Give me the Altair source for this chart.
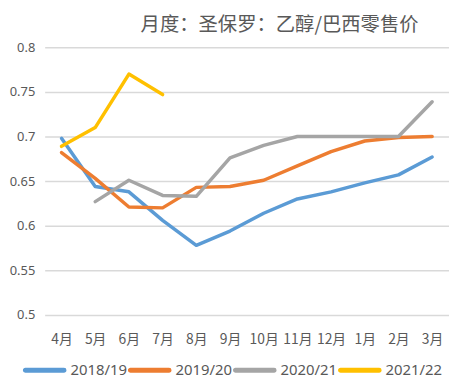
import altair as alt
import pandas as pd

months = ["4月", "5月", "6月", "7月", "8月", "9月", "10月", "11月", "12月", "1月", "2月", "3月"]
series = ["2018/19", "2019/20", "2020/21", "2021/22"]
colors = ["#5B9BD5", "#ED7D31", "#A5A5A5", "#FFC000"]

s2018 = [0.698, 0.644, 0.638, 0.606, 0.578, 0.594, 0.614, 0.630, 0.638, 0.648, 0.657, 0.677]
s2019 = [0.682, 0.653, 0.621, 0.620, 0.643, 0.644, 0.651, 0.667, 0.683, 0.695, 0.699, 0.700]
s2020 = [None, 0.627, 0.651, 0.634, 0.633, 0.676, 0.690, 0.700, 0.700, 0.700, 0.700, 0.739]
s2021 = [0.689, 0.710, 0.770, 0.747]

rows = []
for name, vals in zip(series, [s2018, s2019, s2020, s2021]):
    for m, v in zip(months, vals):
        if v is not None:
            rows.append({"month": m, "series": name, "value": v})
df = pd.DataFrame(rows)

capsule = "M-7.0,-0.2L0.8,-0.2A0.2,0.2 0 0 1 0.8,0.2L-7.0,0.2A0.2,0.2 0 0 1 -7.0,-0.2Z"

chart = alt.Chart(df).mark_line(strokeWidth=3.5, strokeJoin="round", strokeCap="round").encode(
    x=alt.X("month:N", sort=months, scale=alt.Scale(type="point", padding=0.5),
            axis=alt.Axis(title=None, labelAngle=0, domain=False, ticks=False,
                          labelFontSize=14, labelColor="#595959", labelPadding=18,
                          labelFont="Noto Sans CJK SC")),
    y=alt.Y("value:Q", scale=alt.Scale(domain=[0.5, 0.8], nice=False, zero=False),
            axis=alt.Axis(title=None, values=[0.5, 0.55, 0.6, 0.65, 0.7, 0.75, 0.8],
                          format="~g", domain=False, ticks=False, gridColor="#D9D9D9",
                          gridWidth=1.5, labelFontSize=13, labelColor="#595959",
                          labelPadding=10, labelFont="Noto Sans")),
    color=alt.Color("series:N", sort=series,
                    scale=alt.Scale(domain=series, range=colors),
                    legend=alt.Legend(title=None, orient="none", direction="horizontal",
                                      legendX=8, legendY=318,
                                      symbolType=capsule, symbolSize=100,
                                      symbolStrokeWidth=3, labelFontSize=15,
                                      labelColor="#595959", labelFont="Noto Sans",
                                      columnPadding=-5, labelOffset=3)),
    order=alt.Order("series:N"),
).properties(
    width=408, height=270,
    title=alt.TitleParams("月度：圣保罗：乙醇/巴西零售价", fontSize=19.5, color="#595959",
                          font="Noto Sans CJK SC", fontWeight="normal", dx=33, offset=6),
    autosize=alt.AutoSizeParams(type="none"),
    padding={"left": 37, "top": 38, "right": 0, "bottom": 65},
).configure_view(stroke=None)

chart.save("out.html", embed_options={"renderer": "svg", "actions": False})
